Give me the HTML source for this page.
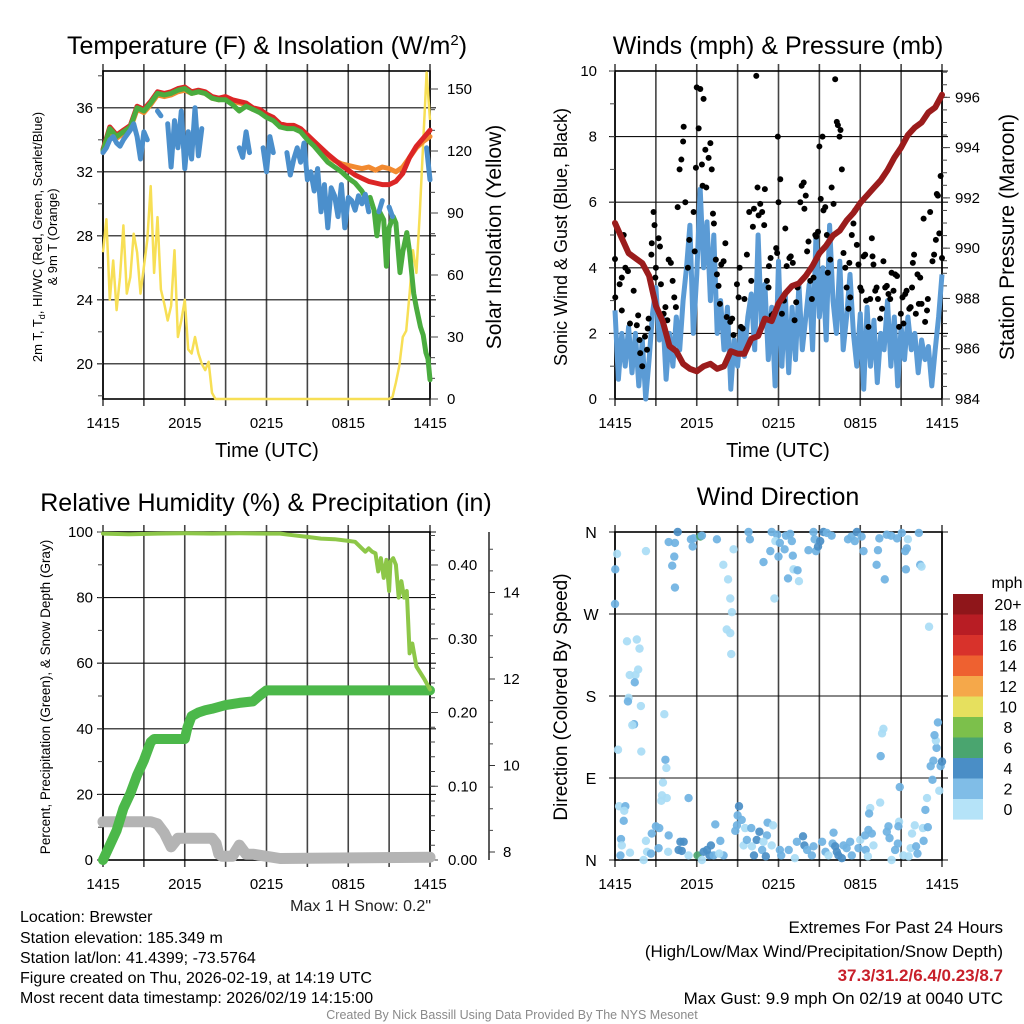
<!DOCTYPE html>
<html><head><meta charset="utf-8"><style>
body{margin:0;background:#fff;}
svg{display:block;font-family:"Liberation Sans",sans-serif;}
</style></head><body>
<svg id="fig" width="1024" height="1024" viewBox="0 0 1024 1024" xmlns="http://www.w3.org/2000/svg">
<rect width="1024" height="1024" fill="#fff"/>
<g id="p1"></g>
<g id="p2"></g>
<g id="p3"></g>
<g id="p4"></g>
<g id="txt">
<text x="267" y="54" font-size="25" text-anchor="middle">Temperature (F) &amp; Insolation (W/m<tspan font-size="15" dy="-9">2</tspan><tspan dy="9">)</tspan></text>
<text x="778" y="54" font-size="25" text-anchor="middle">Winds (mph) &amp; Pressure (mb)</text>
<text x="266" y="511" font-size="25" text-anchor="middle">Relative Humidity (%) &amp; Precipitation (in)</text>
<text x="778" y="505" font-size="25" text-anchor="middle">Wind Direction</text>
<text x="267" y="457" font-size="20" text-anchor="middle">Time (UTC)</text>
<text x="778" y="457" font-size="20" text-anchor="middle">Time (UTC)</text>
<text transform="translate(42,237) rotate(-90)" font-size="13" text-anchor="middle">2m T, T<tspan font-size="9" dy="3">d</tspan><tspan dy="-3">, HI/WC (Red, Green, Scarlet/Blue)</tspan></text>
<text transform="translate(57,237) rotate(-90)" font-size="13" text-anchor="middle">&amp; 9m T (Orange)</text>
<text transform="translate(501,237) rotate(-90)" font-size="21" text-anchor="middle">Solar Insolation (Yellow)</text>
<text transform="translate(567,237) rotate(-90)" font-size="18" text-anchor="middle">Sonic Wind &amp; Gust (Blue, Black)</text>
<text transform="translate(1014,237) rotate(-90)" font-size="21" text-anchor="middle">Station Pressure (Maroon)</text>
<text transform="translate(50,697) rotate(-90)" font-size="13.5" text-anchor="middle">Percent, Precipitation (Green), &amp; Snow Depth (Gray)</text>
<text transform="translate(567,697) rotate(-90)" font-size="19" text-anchor="middle">Direction (Colored By Speed)</text>
<text x="431" y="911" font-size="16" text-anchor="end" fill="#222">Max 1 H Snow: 0.2"</text>
<g font-size="16">
<text x="20" y="922">Location: Brewster</text>
<text x="20" y="943">Station elevation: 185.349 m</text>
<text x="20" y="963">Station lat/lon: 41.4399; -73.5764</text>
<text x="20" y="983">Figure created on Thu, 2026-02-19, at 14:19 UTC</text>
<text x="20" y="1003">Most recent data timestamp: 2026/02/19 14:15:00</text>
</g>
<g font-size="17" text-anchor="end">
<text x="1003" y="933">Extremes For Past 24 Hours</text>
<text x="1003" y="957">(High/Low/Max Wind/Precipitation/Snow Depth)</text>
<text x="1003" y="981" fill="#c8202a" font-weight="bold">37.3/31.2/6.4/0.23/8.7</text>
<text x="1003" y="1004">Max Gust: 9.9 mph On 02/19 at 0040 UTC</text>
</g>
<text x="512" y="1019" font-size="12.5" fill="#8a8a8a" text-anchor="middle">Created By Nick Bassill Using Data Provided By The NYS Mesonet</text>
</g>
</svg>
<script>
// ---------- DATA ----------
const xTickLabels = ["1415","2015","0215","0815","1415"];
const red2mT = [33.4,34.8,34.3,34.6,34.9,36.1,35.9,36.4,37.0,36.9,37.0,37.2,37.3,37.0,37.1,37.0,36.7,36.6,36.7,36.5,36.4,36.3,36.0,35.9,35.6,35.4,35.0,34.9,34.9,34.7,34.3,33.9,33.5,33.1,32.75,32.4,32.1,31.8,31.6,31.4,31.3,31.2,31.2,31.4,31.9,32.9,33.6,34.1,34.6];
const orange9mT = [33.2,34.6,34.1,34.4,34.7,35.9,35.7,36.2,36.8,36.7,36.8,37.0,37.1,36.9,37.0,36.9,36.6,36.5,36.6,36.4,36.3,36.2,35.9,35.8,35.5,35.3,34.9,34.8,34.8,34.6,34.2,33.8,33.4,33.0,32.7,32.5,32.4,32.3,32.2,32.3,32.1,32.3,32.2,32.0,32.3,32.9,33.5,33.9,34.2];
const greenHours = [0,0.5,1,1.5,2,2.5,3,3.5,4,4.5,5,5.5,6,6.5,7,7.5,8,8.5,9,9.5,10,10.5,11,11.5,12,12.5,13,13.5,14,14.5,15,15.5,16,16.5,17,17.5,18,18.5,19,19.3,19.6,19.9,20.1,20.3,20.6,20.8,21.0,21.3,21.5,21.8,22.0,22.3,22.5,22.8,23.0,23.3,23.5,23.7,23.85,24];
const greenWC = [33.3,34.7,34.2,34.5,34.8,36.0,35.8,36.3,36.9,36.8,36.9,37.1,37.2,36.9,37.0,36.9,36.6,36.5,36.5,36.2,35.8,36.1,35.9,35.7,35.4,35.2,34.8,34.7,34.7,34.5,34.0,33.6,33.1,32.6,32.3,32.0,31.6,31.3,30.8,30.3,30.4,29.6,28.0,29.5,29.0,26.1,28.5,29.2,28.8,25.7,27.0,28.2,27.0,24.4,23.5,22.3,21.8,20.7,20.3,19.0];
const blueTd = [33.2,33.5,34.0,34.2,33.8,33.6,34.0,34.3,34.6,35.0,34.2,32.8,34.5,34.0,null,null,35.8,35.5,null,35.0,32.3,35.2,33.5,35.8,32.2,34.5,32.8,36.0,33.0,34.7,
 null,null,null,null,null,null,null,null,null,null,
 33.5,32.9,34.5,33.2,null,null,null,33.5,32.0,34.2,33.2,null,null,null,
 33.2,31.8,32.8,33.5,32.6,33.8,31.5,32.0,30.8,32.2,29.5,31.2,28.5,31.0,30.5,29.2,31.2,28.5,30.4,30.2,29.6,30.5,30.0,30.6,29.5,
 null,null,29.5,30.2,null,29.8,29.2,null,null,null,null,null,null,null,null,null,33.5,31.5];
const solar = [71,87,48,67,43,59,84,51,59,80,71,51,64,77,103,61,88,53,46,38,45,72,30,38,48,24,22,30,22,17,14,18,3,
 0,0,0,0,0,0,0,0,0,0,0,0,0,0,0,0,0,0,0,0,0,0,0,0,0,0,0,0,0,0,0,0,0,0,0,0,0,0,0,0,0,0,0,0,0,0,0,0,0,0,0,0,
 1,8,16,30,33,51,72,61,90,124,158,135];
const pressure = [991.0,990.4,989.8,989.6,989.4,988.9,987.7,987.1,986.1,985.9,985.4,985.2,985.1,985.3,985.4,985.2,985.3,985.9,985.8,985.8,986.4,986.5,987.2,987.1,987.8,988.2,988.5,988.6,988.9,989.3,989.8,990.1,990.5,990.7,991.1,991.4,991.8,992.1,992.4,992.7,993.1,993.6,994.0,994.5,994.8,995.0,995.4,995.6,996.1];
const windSpeed = [2.7,0.6,2.0,1.0,2.2,0.8,2.0,0.4,1.8,0.0,1.2,2.6,3.4,1.8,2.6,0.6,2.0,1.0,2.5,1.5,3.0,4.0,5.3,2.0,3.8,6.4,4.0,5.4,3.0,5.0,2.0,3.0,1.5,2.8,0.3,1.8,1.0,2.2,1.3,2.5,3.2,1.5,5.0,2.2,3.5,1.2,2.8,0.4,4.2,1.0,3.2,0.8,2.8,1.2,3.5,1.5,2.5,3.5,1.5,5.0,2.5,4.0,1.8,5.3,3.0,2.0,4.2,1.5,2.5,3.8,2.0,1.0,2.6,0.3,2.8,1.0,2.4,0.5,2.0,1.5,3.0,1.0,2.5,0.4,2.2,1.2,2.5,1.5,2.0,0.8,1.8,1.2,1.6,0.4,1.5,2.5,3.8];
const gustHours = [0,0.02,0.34,0.64,0.5,0.76,0.95,0.5,1.1,1.37,1.6,1.7,1.8,1.85,2.0,2.2,2.35,2.4,2.47,2.67,2.7,2.83,2.9,3.0,2.96,3.2,3.3,3.37,3.57,3.7,3.84,3.94,4.1,4.23,4.35,4.47,4.6,4.74,4.87,5.0,5.04,5.16,5.35,5.45,5.77,5.85,5.94,6.0,6.14,6.26,6.38,6.5,6.43,6.63,6.7,6.87,7.0,7.1,7.19,7.26,7.4,7.48,7.6,7.7,7.8,7.97,8.1,8.2,8.46,8.6,8.7,8.95,9.07,9.15,9.24,9.37,9.5,9.68,9.85,10.0,10.12,10.2,10.37,10.46,10.54,10.66,10.8,10.95,11.0,11.15,11.27,11.3,11.42,11.5,11.63,11.83,11.9,11.95,12.0,12.13,12.25,12.4,12.5,12.6,12.8,12.9,13.05,13.18,13.3,13.4,13.6,13.7,13.85,13.9,14.0,14.1,14.2,14.33,14.45,14.57,14.7,14.77,14.9,15.0,15.1,15.23,15.3,15.43,15.55,15.62,15.8,15.9,16.04,16.16,16.28,16.36,16.48,16.55,16.65,16.77,16.9,17.0,17.14,17.2,17.26,17.38,17.5,17.63,17.75,17.87,18.0,18.1,18.24,18.36,18.43,18.6,18.73,18.85,18.9,18.97,19.1,19.2,19.3,19.46,19.6,19.7,19.83,19.95,20.07,20.2,20.3,20.44,20.56,20.7,20.85,20.98,21.1,21.17,21.3,21.4,21.6,21.7,21.8,21.86,21.95,22.08,22.2,22.3,22.4,22.5,22.65,22.76,22.9,22.96,23.13,23.3,23.42,23.55,23.62,23.7,23.8,23.9,24.0];
const gustMph = [4.27,3.1,3.5,5.0,3.7,4.0,3.9,2.7,2.3,3.3,2.25,2.55,1.8,1.4,1.0,1.9,1.5,2.15,2.45,4.4,4.75,5.7,5.3,4.0,3.7,4.9,4.65,3.5,2.6,2.8,2.4,4.25,4.15,3.6,3.1,2.8,5.85,7.0,7.3,7.85,8.3,6.0,4.0,4.85,5.7,4.5,7.05,9.5,8.25,9.45,7.15,9.15,6.5,7.6,6.45,7.35,7.8,7.0,5.65,5.35,4.25,3.8,3.45,2.9,4.1,4.2,4.75,2.5,2.35,2.45,1.95,3.5,3.1,4.0,2.2,2.15,3.05,4.4,5.7,3.6,5.25,5.8,9.85,6.45,5.6,5.95,5.7,5.3,6.4,3.6,3.4,4.05,4.3,2.55,2.6,4.6,4.45,8.0,6.0,6.7,2.6,3.0,5.2,4.05,4.3,4.35,4.15,2.4,2.95,3.4,6.0,6.5,6.6,5.8,6.2,4.5,4.8,3.6,3.05,3.7,5.0,4.95,5.1,7.7,6.1,8.0,5.75,5.85,5.0,3.85,4.25,6.45,5.95,9.75,8.45,8.35,8.0,8.2,7.0,4.45,4.0,3.4,2.75,4.15,3.1,5.0,5.35,5.75,4.7,4.1,3.4,3.3,4.35,4.4,3.0,2.2,3.05,4.9,4.35,4.1,3.3,3.4,3.05,2.45,2.75,4.2,3.4,3.45,3.2,3.05,3.85,3.3,3.8,3.75,2.2,2.6,3.1,2.3,3.2,3.3,2.75,2.8,3.4,4.15,4.4,2.6,3.8,2.9,3.7,2.9,5.5,2.35,2.7,3.05,5.7,4.2,4.4,4.85,6.25,6.2,5.05,6.8,4.3];
const rhHours = [0,2,4,6,8,10,12,13,14,15,16,17,18,18.5,19,19.25,19.5,19.75,20,20.2,20.4,20.6,20.8,21,21.1,21.3,21.5,21.7,21.9,22.1,22.3,22.5,22.7,23,23.3,23.6,24];
const rhVals = [99.5,99.3,99.5,99.6,99.5,99.6,99.5,99.5,99.0,98.5,98.0,97.8,97.3,97.0,95.0,94.0,95.0,94.0,93.5,88.0,92.0,86.0,91.5,82.0,91.0,92.0,90.0,80.0,85.0,80.0,82.0,63.0,66.0,59.0,57.0,55.0,52.0];
const precipHours = [0,0.5,1,1.5,2,2.5,3,3.5,3.75,6,6.2,6.5,7,7.5,8,9,10,11,11.5,12,24];
const precipIn = [0,0.02,0.04,0.07,0.09,0.115,0.135,0.16,0.164,0.164,0.18,0.195,0.2,0.203,0.205,0.21,0.213,0.215,0.223,0.23,0.23];
const snowHours = [0,3.5,4,4.5,5,5.5,6,8,8.3,8.5,8.75,9.5,10,10.5,11,12,13,24];
const snowDepth = [8.7,8.7,8.65,8.44,8.12,8.32,8.32,8.32,8.2,7.95,7.9,7.9,8.16,7.95,7.95,7.9,7.85,7.88];
const dirHours = [0.15,0.02,0,2.27,3.94,4.4,4.6,4.35,4.2,4.4,5.57,5.77,5.7,6.26,6.38,7.48,8.7,7.95,8.3,8.46,8.58,8.2,8.46,8.53,9.8,9.9,10.9,11.4,11.5,11.9,11.77,12.0,12.1,12.45,12.55,12.86,12.98,13.05,12.7,13.1,13.4,13.5,11.7,14.2,14.57,14.65,14.75,14.9,15.06,15.3,15.55,15.9,17.1,17.35,17.6,17.75,18.1,18.24,19.2,19.3,19.4,19.8,19.95,20.27,20.7,21.05,21.5,21.3,21.42,21.35,22.3,22.4,22.5,23.05,
0.88,1.6,1.8,1.7,1.08,1.5,1.45,1.0,0.95,1.9,1.4,1.27,3.62,0.22,1.93,3.7,3.77,3.52,3.45,3.4,3.8,5.4,0.3,0.76,0.68,0.64,0.44,0.5,0.4,1.1,2.1,2.27,2.35,2.64,2.7,3.0,3.25,3.2,3.94,3.9,4.8,5.04,4.9,4.67,5.4,6.06,6.38,6.5,6.75,7.04,6.94,7.36,7.24,7.73,7.97,7.65,8.83,8.95,9.0,9.1,9.3,9.55,9.44,9.68,10.0,10.05,10.2,10.4,10.6,10.8,11.15,11.2,11.6,11.07,10.9,11.5,12.1,12.2,12.75,13.2,13.35,13.8,13.9,14.1,14.45,14.57,15.2,15.45,15.67,16.04,15.97,16.16,16.28,16.4,16.65,16.77,17.0,17.26,17.38,17.87,18.0,18.36,18.4,18.56,18.6,18.73,18.65,18.85,18.97,19.46,19.5,19.6,19.7,19.95,20.07,20.15,20.3,20.56,20.76,20.85,20.9,20.8,21.17,21.55,21.7,21.8,22.0,22.1,22.2,22.65,22.6,22.96,22.78,22.9,23.3,23.17,23.37,23.6,23.55,23.45,23.7,23.8,23.9,24.0];
const dirDeg = [336,319,281,339,349,348,360,333,323,299,352,353,344,355,356,352,341,324,308,287,272,253,249,226,360,352,327,339,360,357,350,333,348,341,356,358,350,334,309,319,318,306,287,340,360,352,339,344,350,360,359,356,352,355,350,360,355,339,324,340,353,308,357,356,353,359,352,339,342,319,359,324,322,256,
240,242,232,209,203,203,195,178,174,169,149,148,160,121,119,110,101,85,71,65,68,68,59,59,54,43,23,16,5,8,0,21,9,7,29,37,35,13,27,9,20,20,10,11,5,5,0,9,11,16,5,39,5,21,5,7,32,38,49,59,44,35,16,22,35,15,5,22,31,11,27,41,38,4,20,16,11,5,11,2,20,26,16,11,5,15,20,9,5,30,18,15,9,5,2,16,13,20,5,13,22,27,11,4,33,57,51,29,16,63,114,139,144,31,37,24,0,11,18,42,80,37,5,4,13,29,38,15,7,21,35,36,55,68,88,103,109,123,131,137,151,76,103,108];
const dirSpeed = [1,3,3,1,3,3,4.5,3,3,3,3,3,3,7,3,3,1,1,1,1,1,1,1,1,3,3,3,3,3,3,1,3,3,3,3,3,3,3,3,1,3,1,1,3,3,3,3,4.5,4.5,4.5,3,3,3,3,3,4.5,3,3,3,3,3,3,3,3,3,3,1,3,3,3,3,3,1,1,
1,1,1,1,1,1,3,1,3,1,3,1,1,1,1,3,1,1,1,1,1,3,1,3,1,3,3,1,3,1,1,1,1,3,3,3,3,3,3,1,4.5,4.5,4.5,4.5,1,7,1,4.5,4.5,4.5,4.5,3,3,3,3,1,3,3,3,4.5,3,1,1,3,3,1,4.5,4.5,4.5,3,3,3,1,4.5,1,1,3,3,3,1,3,4.5,4.5,3,3,3,3,3,1,3,3,4.5,4.5,4.5,4.5,3,3,3,3,3,1,3,3,1,3,1,3,3,1,1,3,1,1,3,3,3,1,3,3,1,3,3,1,1,1,1,1,3,3,3,1,3,3,1,3,3,3,3,1,3,3,1,3,4.5,3];
const cbLabels = ["20+","18","16","14","12","10","8","6","4","2","0"];
const cbColors = ["#8f161a","#b81d24","#d8322b","#ee6130","#f5a84a","#e6e05e","#7cc04b","#4aa56f","#4a8ec6","#80bde7","#b5e3f8"];

// ---------- HELPERS ----------
const NS="http://www.w3.org/2000/svg";
function mk(parent,tag,attrs){const e=document.createElementNS(NS,tag);for(const k in attrs)e.setAttribute(k,attrs[k]);parent.appendChild(e);return e;}
function txt(parent,x,y,s,size,anchor){const t=mk(parent,'text',{x:x,y:y,'font-size':size,'text-anchor':anchor||'middle'});t.textContent=s;return t;}
function pathFrom(xs,ys,fx,fy){let d='',pen=false;for(let i=0;i<xs.length;i++){if(ys[i]===null||ys[i]===undefined){pen=false;continue;}d+=(pen?'L':'M')+fx(xs[i]).toFixed(1)+','+fy(ys[i]).toFixed(1);pen=true;}return d;}
function step(n,dt){const a=[];for(let i=0;i<n;i++)a.push(i*dt);return a;}
const L1=103,R1=430,L2=615,R2=942;
const xA=h=>L1+h*(R1-L1)/24, xB=h=>L2+h*(R2-L2)/24;

function frame(g,L,R,T,B,hLines,xf){
  for(let i=0;i<=8;i++){const x=L+i*(R-L)/8;mk(g,'line',{x1:x,x2:x,y1:T-7,y2:B+7,stroke:'#444','stroke-width':1.6});}
  hLines.forEach(y=>mk(g,'line',{x1:L-6,x2:R+6,y1:y,y2:y,stroke:'#111','stroke-width':1.1}));
  mk(g,'rect',{x:L,y:T,width:R-L,height:B-T,fill:'none',stroke:'#000','stroke-width':1.6});
  xTickLabels.forEach((s,i)=>{const t=txt(g,L+i*(R-L)/4,B+29,s,15);});
}
function ticksLeft(g,x,vals,yf,len){vals.forEach(v=>mk(g,'line',{x1:x-len,x2:x,y1:yf(v),y2:yf(v),stroke:'#444','stroke-width':1}));}
function ticksRight(g,x,vals,yf,len){vals.forEach(v=>mk(g,'line',{x1:x,x2:x+len,y1:yf(v),y2:yf(v),stroke:'#444','stroke-width':1}));}
function range(a,b,s){const r=[];for(let v=a;v<=b+1e-9;v+=s)r.push(+v.toFixed(4));return r;}

// ---------- PANEL 1 ----------
(function(){
const g=document.getElementById('p1');
const yT=v=>399-(v-17.8)*16, yS=v=>399-v*2.0667;
frame(g,L1,R1,71,399,[20,24,28,32,36].map(yT),xA);
ticksLeft(g,L1,range(18,38,2),yT,5);
ticksRight(g,R1,range(0,150,10),yS,5);
ticksRight(g,R1,range(0,150,30),yS,8);
[20,24,28,32,36].forEach(v=>{const t=txt(g,93,yT(v)+5,String(v),15,'end');});
[0,30,60,90,120,150].forEach(v=>{const t=txt(g,447,yS(v)+5,String(v),15,'start');});
const h30=step(49,0.5), h15=step(97,0.25);
let p;
p=mk(g,'path',{d:pathFrom(h15,solar,xA,yS),fill:'none',stroke:'#f7df55','stroke-width':2.5,'stroke-linejoin':'round'});


p=mk(g,'path',{d:pathFrom(h30,orange9mT,xA,yT),fill:'none',stroke:'#f28a30','stroke-width':5,'stroke-linejoin':'round','stroke-linecap':'round'});


p=mk(g,'path',{d:pathFrom(h30,red2mT,xA,yT),fill:'none',stroke:'#dc2626','stroke-width':5,'stroke-linejoin':'round','stroke-linecap':'round'});


p=mk(g,'path',{d:pathFrom(greenHours,greenWC,xA,yT),fill:'none',stroke:'#4aac3f','stroke-width':5,'stroke-linejoin':'round','stroke-linecap':'round'});


p=mk(g,'path',{d:pathFrom(h15,blueTd,xA,yT),fill:'none',stroke:'#4b8fcc','stroke-width':5,'stroke-linejoin':'round','stroke-linecap':'round'});


})();

// ---------- PANEL 2 ----------
(function(){
const g=document.getElementById('p2');
const yW=v=>399-v*32.8, yP=v=>399-(v-984)*25.14;
frame(g,L2,R2,71,399,[0,2,4,6,8,10].map(yW),xB);
ticksLeft(g,L2,range(0,10,1),yW,5);
ticksRight(g,R2,range(984,997,0.5),yP,5);
ticksRight(g,R2,range(984,996,2),yP,8);
[0,2,4,6,8,10].forEach(v=>{const t=txt(g,597,yW(v)+5,String(v),15,'end');});
[984,986,988,990,992,994,996].forEach(v=>{const t=txt(g,955,yP(v)+5,String(v),15,'start');});
let p=mk(g,'path',{d:pathFrom(step(97,0.25),windSpeed,xB,yW),fill:'none',stroke:'#5b9bd5','stroke-width':5,'stroke-linejoin':'round'});


gustHours.forEach((h,i)=>{const c=mk(g,'circle',{cx:xB(h),cy:yW(gustMph[i]),r:3,fill:'#000'});

});
p=mk(g,'path',{d:pathFrom(step(49,0.5),pressure,xB,yP),fill:'none',stroke:'#9b1c1c','stroke-width':6,'stroke-linejoin':'round','stroke-linecap':'round'});


})();

// ---------- PANEL 3 ----------
(function(){
const g=document.getElementById('p3');
const yR=v=>860-v*3.28, yPr=v=>860-v*737.5, ySn=v=>852-(v-8)*43.25;
frame(g,L1,R1,532,860,[0,20,40,60,80,100].map(yR),xA);
ticksLeft(g,L1,range(0,100,10),yR,5);
ticksRight(g,R1,range(0,0.44,0.02),yPr,5);
ticksRight(g,R1,range(0,0.4,0.1),yPr,8);
[0,20,40,60,80,100].forEach(v=>{const t=txt(g,93,yR(v)+5,String(v),15,'end');});
[0,0.1,0.2,0.3,0.4].forEach(v=>{const t=txt(g,448,yPr(v)+5,v.toFixed(2),15,'start');});
const sa=mk(g,'line',{x1:489,x2:489,y1:532,y2:860,stroke:'#333','stroke-width':1.6});


ticksRight(g,489,range(8,15,0.5),ySn,4);
[8,10,12,14].forEach(v=>{mk(g,'line',{x1:489,x2:495,y1:ySn(v),y2:ySn(v),stroke:'#333'});const t=txt(g,503,ySn(v)+5,String(v),15,'start');});
let p=mk(g,'path',{d:pathFrom(snowHours,snowDepth,xA,ySn),fill:'none',stroke:'#b4b4b4','stroke-width':11,'stroke-linejoin':'round','stroke-linecap':'round'});


p=mk(g,'path',{d:pathFrom(precipHours,precipIn,xA,yPr),fill:'none',stroke:'#4cb84a','stroke-width':10,'stroke-linejoin':'round','stroke-linecap':'round'});


p=mk(g,'path',{d:pathFrom(rhHours,rhVals,xA,yR),fill:'none',stroke:'#8dc748','stroke-width':4,'stroke-linejoin':'round','stroke-linecap':'round'});


})();

// ---------- PANEL 4 ----------
(function(){
const g=document.getElementById('p4');
const yD=d=>860-d*328/360;
const dirLbl=["N","E","S","W","N"];
frame(g,L2,R2,532,860,[0,90,180,270,360].map(yD),xB);
[0,90,180,270,360].forEach((d,i)=>{const t=txt(g,591,yD(d)+6,dirLbl[i],16);});
const col=s=>s>=6?cbColors[7]:s>=4?cbColors[8]:s>=2?"#6fb2e2":"#a9dcf5";
dirHours.forEach((h,i)=>{const c=mk(g,'circle',{cx:xB(h),cy:yD(dirDeg[i]),r:4.2,fill:col(dirSpeed[i]),'fill-opacity':0.92});

});
const cb=mk(g,'g',{});


txt(cb,1007,588,'mph',16);
cbColors.forEach((c,i)=>{const y=594+i*20.5;mk(cb,'rect',{x:953,y:y,width:30,height:20.6,fill:c});const t=txt(cb,1008,y+16,cbLabels[i],16);});
})();
</script>
</body></html>
